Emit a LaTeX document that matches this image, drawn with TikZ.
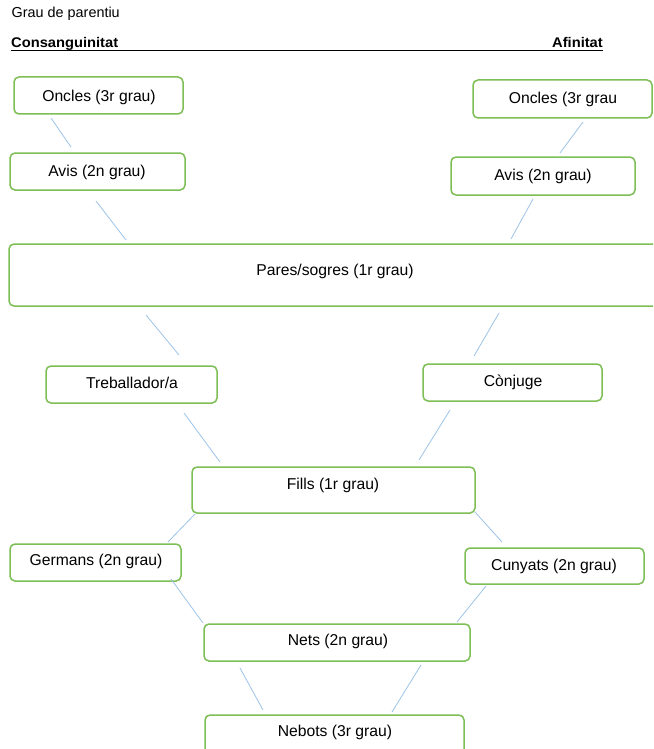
\documentclass[tikz,border=0pt]{standalone}
\usepackage{fontspec}
\setmainfont{Liberation Sans}
\usepackage{graphicx}
\definecolor{boxgreen}{HTML}{7DBE55}
\definecolor{linkblue}{HTML}{9DC3E6}
\begin{document}
\begin{tikzpicture}[x=1pt,y=-1pt,
  box/.style={draw=boxgreen, line width=1.5pt, rounded corners=5pt, fill=white},
  txt/.style={inner sep=0pt, anchor=base, font=\fontsize{15.7}{18}\selectfont},
  link/.style={draw=linkblue, line width=0.8pt},
  head/.style={inner sep=0pt, anchor=base west}]
\useasboundingbox (0,0) rectangle (653,749);
\clip (0,0) rectangle (653,749);

% header
\node[head] (title) at (11.5,17.3) {\fontsize{14.4}{16}\selectfont Grau de parentiu};
\node[head] (cons) at (11,47.5) {\scalebox{1.05}[1]{\fontsize{14}{16}\selectfont\bfseries Consanguinitat}};
\node[head, anchor=base east] (afin) at (603,47.5) {\scalebox{1.05}[1]{\fontsize{14}{16}\selectfont\bfseries Afinitat}};
\draw[line width=1.3pt] (cons.west |- 0,50.3) -- (afin.east |- 0,50.3);

% boxes
\draw[box] (14,77) rectangle (183,114);
\node[txt] (onclesL) at (99,101.7) {Oncles (3r grau)};
\draw[box] (473,80) rectangle (652,118);
\node[txt] (onclesR) at (563,103.7) {Oncles (3r grau};
\draw[box] (10,153) rectangle (185,190);
\node[txt] (avisL) at (97,176.7) {Avis (2n grau)};
\draw[box] (451,157) rectangle (635,195);
\node[txt] (avisR) at (543,180.7) {Avis (2n grau)};
\draw[box] (9,244) rectangle (670,306);
\node[txt] (pares) at (335,275.7) {Pares/sogres (1r grau)};
\draw[box] (46,366) rectangle (217,403);
\node[txt] (treb) at (132,388.7) {Treballador/a};
\draw[box] (423,364) rectangle (602,401);
\node[txt] (conj) at (513,386.7) {Cònjuge};
\draw[box] (192,467) rectangle (475,513);
\node[txt] (fills) at (333,489.7) {Fills (1r grau)};
\draw[box] (10,544) rectangle (181,581);
\node[txt] (germans) at (96,565.7) {Germans (2n grau)};
\draw[box] (465,548) rectangle (644,584);
\node[txt] (cunyats) at (554,570.7) {Cunyats (2n grau)};
\draw[box] (204,624) rectangle (470,661);
\node[txt] (nets) at (338,645.7) {Nets (2n grau)};
\draw[box] (205,715) rectangle (464,770);
\node[txt] (nebots) at (335,736.7) {Nebots (3r grau)};

% connector end points
\coordinate (a1) at (51,118);  \coordinate (a2) at (71,147);
\coordinate (b1) at (583,122); \coordinate (b2) at (560,153);
\coordinate (c1) at (96,201);  \coordinate (c2) at (126,240);
\coordinate (d1) at (533,199); \coordinate (d2) at (511,239);
\coordinate (e1) at (146,315); \coordinate (e2) at (179,355);
\coordinate (f1) at (499,313); \coordinate (f2) at (474,356);
\coordinate (g1) at (184,413); \coordinate (g2) at (220,462);
\coordinate (h1) at (450,410); \coordinate (h2) at (419,460);
\coordinate (i1) at (195,514); \coordinate (i2) at (168,542);
\coordinate (j1) at (475,512); \coordinate (j2) at (502,542);
\coordinate (k1) at (171,579); \coordinate (k2) at (203,623);
\coordinate (l1) at (486,586); \coordinate (l2) at (457,622);
\coordinate (m1) at (240,668); \coordinate (m2) at (263,710);
\coordinate (n1) at (421,665); \coordinate (n2) at (392,712);

\foreach \p in {a,b,c,d,e,f,g,h,i,j,k,l,m,n}
  \draw[link] (\p1) -- (\p2);
\end{tikzpicture}
\end{document}
